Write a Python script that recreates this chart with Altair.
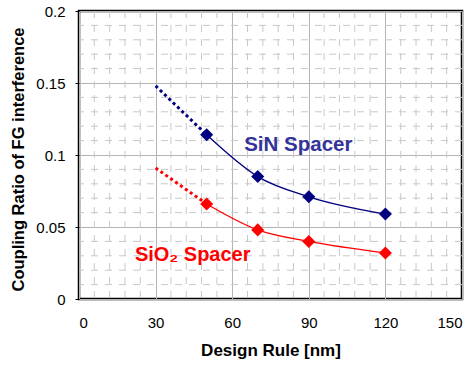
import altair as alt
import pandas as pd

# Data
x_main = [50, 70, 90, 120]
sin_vals = [0.114, 0.085, 0.071, 0.059]
sio2_vals = [0.066, 0.048, 0.040, 0.032]
ext_x = [30, 50]
sin_ext = [0.148, 0.114]
sio2_ext = [0.091, 0.066]

x_ticks = [0, 30, 60, 90, 120, 150]
y_ticks = [0, 0.05, 0.1, 0.15, 0.2]
minor_x = [v for v in range(0, 151, 6) if v % 30 != 0]
minor_y = [round(v * 0.01, 2) for v in range(0, 21) if v % 5 != 0]

NAVY = "#000080"
RED = "#ff0000"
FONT = "Liberation Sans"

main = pd.DataFrame({
    "x": x_main * 2,
    "y": sin_vals + sio2_vals,
    "s": ["SiN"] * 4 + ["SiO2"] * 4,
})
ext = pd.DataFrame({
    "x": ext_x * 2,
    "y": sin_ext + sio2_ext,
    "s": ["SiN"] * 2 + ["SiO2"] * 2,
})

xs = alt.Scale(domain=[0, 150], nice=False, zero=False)
ys = alt.Scale(domain=[0, 0.2], nice=False, zero=False)
color = alt.Color("s:N", scale=alt.Scale(domain=["SiN", "SiO2"], range=[NAVY, RED]), legend=None)

xaxis = alt.Axis(values=x_ticks, title="Design Rule [nm]", grid=True, gridColor="#b4b4b4",
                 gridWidth=1, domain=False, ticks=False, labelFont=FONT, labelFontSize=15,
                 labelColor="#000", labelPadding=16, titleFont=FONT, titleFontSize=17,
                 titleFontWeight="bold", titleColor="#000", titlePadding=12, format="d")
yaxis = alt.Axis(values=y_ticks, title="Coupling Ratio of FG interference", grid=True,
                 gridColor="#b4b4b4", gridWidth=1, domain=False, ticks=True, tickSize=4,
                 tickColor="#000", labelFont=FONT, labelFontSize=15, labelColor="#000",
                 labelPadding=10, titleFont=FONT, titleFontSize=16.5, titleFontWeight="bold",
                 titleColor="#000", titlePadding=9, titleY=148, format="~g")

mx = alt.Chart(pd.DataFrame({"v": minor_x})).mark_rule(
    color="#c8c8c8", strokeWidth=1, strokeDash=[7, 7]
).encode(x=alt.X("v:Q", scale=xs, axis=xaxis))
my = alt.Chart(pd.DataFrame({"v": minor_y})).mark_rule(
    color="#c8c8c8", strokeWidth=1, strokeDash=[7, 7]
).encode(y=alt.Y("v:Q", scale=ys, axis=yaxis))

lines = alt.Chart(main).mark_line(strokeWidth=1.3, interpolate="monotone").encode(
    x=alt.X("x:Q", scale=xs), y=alt.Y("y:Q", scale=ys), color=color, detail="s:N")
dots = alt.Chart(ext).mark_line(strokeWidth=3, strokeDash=[3, 3]).encode(
    x=alt.X("x:Q", scale=xs), y=alt.Y("y:Q", scale=ys), color=color, detail="s:N")
pts = alt.Chart(main).mark_point(shape="diamond", filled=True, size=170, opacity=1).encode(
    x=alt.X("x:Q", scale=xs), y=alt.Y("y:Q", scale=ys), color=color)

t1 = alt.Chart().mark_text(text="SiN Spacer", font=FONT, fontSize=20.5, fontWeight="bold",
                           color="#333399", align="left", baseline="middle").encode(
    x=alt.datum(64.7), y=alt.datum(0.107))
t2 = alt.Chart().mark_text(text="SiO₂ Spacer", font=FONT, fontSize=20, fontWeight="bold",
                           color=RED, align="left", baseline="middle").encode(
    x=alt.datum(21.9), y=alt.datum(0.0305))

chart = alt.layer(mx, my, lines, dots, pts, t1, t2).properties(
    width=383, height=288, autosize="none",
    padding={"left": 79, "top": 11, "right": 14, "bottom": 67},
    background="white",
).configure_view(stroke="#000", strokeWidth=2.5)

chart.save("out.html", embed_options={"renderer": "svg", "actions": False})
